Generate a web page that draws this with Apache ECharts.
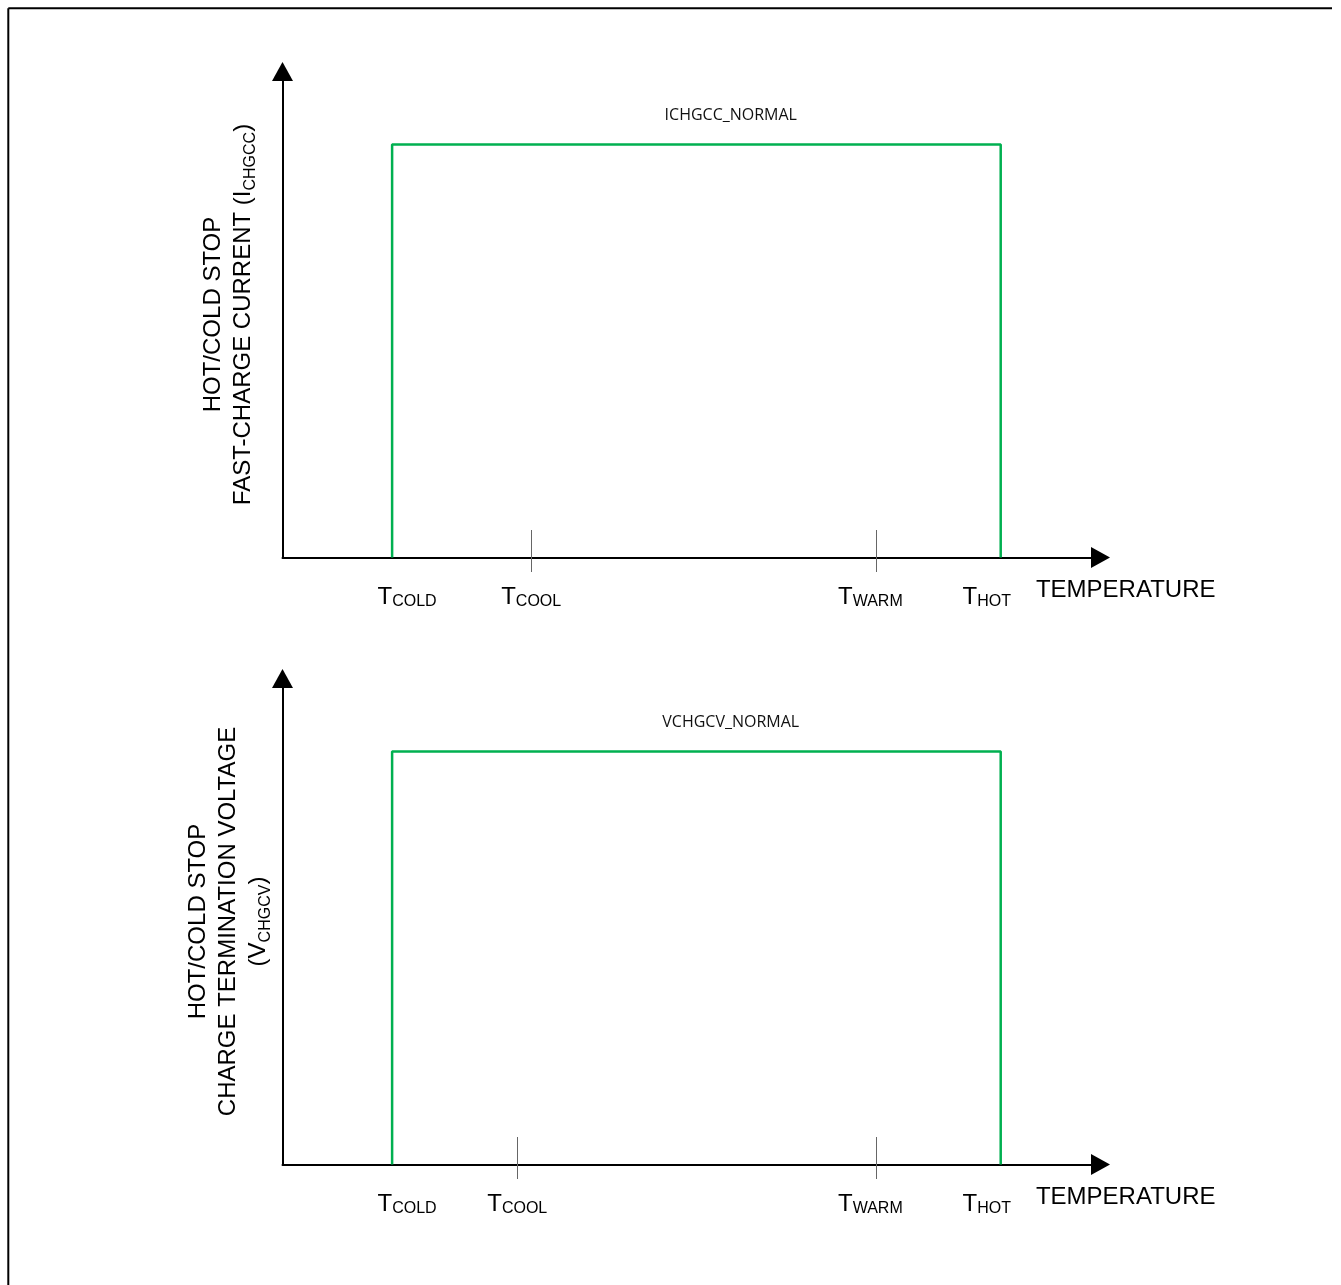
<!DOCTYPE html>
<html>
<head>
<meta charset="utf-8">
<script src="https://cdn.jsdelivr.net/npm/echarts@6/dist/echarts.min.js"></script>
<style>html,body{margin:0;padding:0;background:#fff}#c{width:1341px;height:1285px}</style>
</head>
<body>
<div id="c"></div>
<script>
// ---- data ----
const tempNames = ['COLD', 'COOL', 'WARM', 'HOT'];
const tempPanel1 = [13.4, 30.4, 72.6, 87.8];
const tempPanel2 = [13.4, 28.7, 72.6, 87.8];
const tickIdx = [1, 2];               // only T_COOL and T_WARM carry a visible tick
const levelPanel1 = 85;
const levelPanel2 = 85;
const seriesNames = ['ICHGCC_NORMAL', 'VCHGCV_NORMAL'];
const seriesLabelX = [54.8, 54.8];
const xMax = 100, yMax = 100;
const xName = 'TEMPERATURE';
const yName1 = '{a|HOT/COLD STOP}\n{a|FAST-CHARGE CURRENT (I}{s|CHGCC}{a|)}';
const yName2 = '{a|HOT/COLD STOP}\n{a|CHARGE TERMINATION VOLTAGE}\n{a|(V}{s|CHGCV}{a|)}';

// ---- styling ----
const FONT = "'Liberation Sans', Arial, sans-serif";
const GREEN = '#00b050';
const labelShift = [{tl: 30, sr: 0}, {tl: 0, sr: 0}, {tl: 0, sr: 12}, {tl: 0, sr: 28}];
const rich = {};
labelShift.forEach((s, i) => {
  rich['t' + i] = {fontSize: 24, lineHeight: 24, fontFamily: FONT, color: '#000', padding: [0, 0, 0, s.tl]};
  rich['s' + i] = {fontSize: 16, lineHeight: 14, fontFamily: FONT, color: '#000', verticalAlign: 'bottom', padding: [0, s.sr, 0, 0]};
});

function stepData(t, level) {
  return [[t[0], 0], [t[0], level], [t[3], level], [t[3], 0]];
}

function mainXAxis(grid, temps) {
  return {
    type: 'value', gridIndex: grid, min: 0, max: xMax, position: 'bottom',
    name: xName, nameLocation: 'end', nameGap: 115, nameMoveOverlap: false,
    nameTextStyle: {fontSize: 24, fontFamily: FONT, color: '#000', align: 'right', verticalAlign: 'top', lineHeight: 65},
    axisLine: {show: true, onZero: false, symbol: ['none', 'triangle'], symbolSize: [21, 19], lineStyle: {color: '#000', width: 2}},
    axisTick: {show: false},
    splitLine: {show: false},
    axisLabel: {
      show: true, margin: 28, customValues: temps,
      formatter: function (v) {
        const i = temps.indexOf(v);
        return '{t' + i + '|T}{s' + i + '|' + tempNames[i] + '}';
      },
      rich: rich
    }
  };
}
function tickXAxis(grid, temps) {
  return {
    type: 'value', gridIndex: grid, min: 0, max: xMax, position: 'bottom', offset: -27.5,
    axisLine: {show: false, onZero: false},
    axisLabel: {show: false},
    splitLine: {show: false},
    axisTick: {show: true, inside: false, length: 42, customValues: tickIdx.map(i => temps[i]), lineStyle: {color: '#666', width: 1}}
  };
}
function yAxis(grid, name, gap) {
  return {
    type: 'value', gridIndex: grid, min: 0, max: yMax,
    name: name, nameLocation: 'middle', nameRotate: 90, nameGap: gap, nameMoveOverlap: false,
    nameTextStyle: {
      fontFamily: FONT, fontSize: 24, lineHeight: 30, color: '#000',
      rich: {
        a: {fontFamily: FONT, fontSize: 24, lineHeight: 30, color: '#000'},
        s: {fontFamily: FONT, fontSize: 16, lineHeight: 20, color: '#000', verticalAlign: 'bottom'}
      }
    },
    axisLine: {show: true, onZero: false, symbol: ['none', 'triangle'], symbolSize: [21, 19], lineStyle: {color: '#000', width: 2}},
    axisTick: {show: false},
    axisLabel: {show: false},
    splitLine: {show: false}
  };
}
function stepSeries(xi, yi, data, name, lx, level) {
  return {
    type: 'line', name: name, xAxisIndex: xi, yAxisIndex: yi, data: data,
    showSymbol: false, symbol: 'none', animation: false, clip: false,
    lineStyle: {color: GREEN, width: 2.5},
    markPoint: {
      symbol: 'circle', symbolSize: 0, animation: false,
      label: {show: true, position: 'inside', offset: [0, -29], formatter: name,
        fontFamily: "'Open Sans', sans-serif", fontSize: 16, color: '#111'},
      data: [{coord: [lx, level]}]
    }
  };
}

const chart = echarts.init(document.getElementById('c'), null, {renderer: 'canvas'});
chart.setOption({
  backgroundColor: '#fff',
  animation: false,
  grid: [
    {left: 282.5, top: 71.5, width: 818, height: 486},
    {left: 282.5, top: 678.5, width: 818, height: 486}
  ],
  xAxis: [mainXAxis(0, tempPanel1), tickXAxis(0, tempPanel1), mainXAxis(1, tempPanel2), tickXAxis(1, tempPanel2)],
  yAxis: [yAxis(0, yName1, 24), yAxis(1, yName2, 9)],
  series: [
    stepSeries(0, 0, stepData(tempPanel1, levelPanel1), seriesNames[0], seriesLabelX[0], levelPanel1),
    stepSeries(2, 1, stepData(tempPanel2, levelPanel2), seriesNames[1], seriesLabelX[1], levelPanel2)
  ],
  graphic: [
    {type: 'line', shape: {x1: 8.3, y1: 8.3, x2: 1332, y2: 8.3}, style: {stroke: '#000', lineWidth: 2}},
    {type: 'line', shape: {x1: 8.3, y1: 8.3, x2: 8.3, y2: 1285}, style: {stroke: '#000', lineWidth: 2}}
  ]
});
</script>
</body>
</html>
